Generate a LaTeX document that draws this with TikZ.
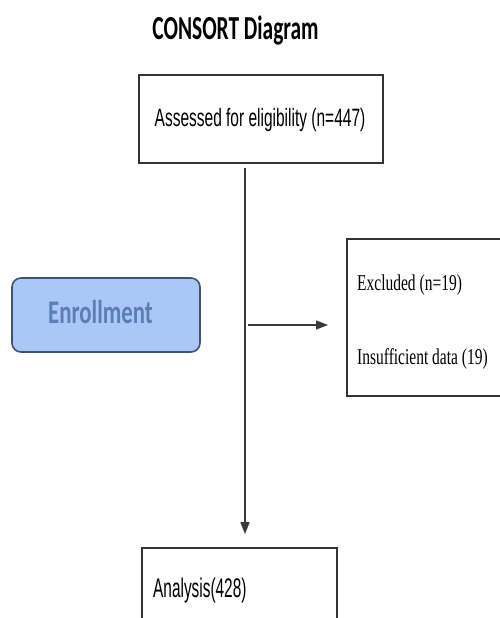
\documentclass[tikz,border=0pt]{standalone}
\usepackage{fontspec}
\usepackage{graphicx}
\usetikzlibrary{arrows.meta}
\newfontfamily\calfont{Carlito}
\newfontfamily\arialfont{Liberation Sans}
\newfontfamily\timesfont{Liberation Serif}
\definecolor{boxline}{HTML}{333333}
\definecolor{arrline}{HTML}{3A3A3A}
\definecolor{enrfill}{HTML}{A9C7F7}
\definecolor{enrline}{HTML}{44536B}
\definecolor{enrtext}{HTML}{5B7EB6}
\tikzset{
  plainbox/.style={draw=boxline, line width=1.8pt, fill=white, inner sep=0pt},
  enrbox/.style={draw=enrline, line width=1.6pt, fill=enrfill, rounded corners=9pt, inner sep=0pt},
  txt/.style={inner sep=0pt, anchor=base},
  ltxt/.style={inner sep=0pt, anchor=base west},
  arr/.style={draw=arrline, line width=1.5pt, -{Triangle[length=12pt,width=9pt]}},
}
\begin{document}
\begin{tikzpicture}[x=1pt,y=-1pt]
\useasboundingbox (0,0) rectangle (500,618);
\clip (0,0) rectangle (500,618);
% title
\node[txt] (title) at (235.5,40) {\scalebox{1}[1.57]{\calfont\bfseries\fontsize{21.4}{24}\selectfont CONSORT Diagram}};
% top box
\node[plainbox, minimum width=244pt, minimum height=88pt] (assess) at (261,119) {};
\node[txt] (assesstxt) at (260,126) {\scalebox{1}[1.62]{\arialfont\fontsize{15.5}{18}\selectfont Assessed for eligibility (n=447)}};
% enrollment
\node[enrbox, minimum width=188pt, minimum height=74pt] (enroll) at (106,315) {};
\node[txt] (enrolltxt) at (100.5,323) {\scalebox{1}[1.45]{\calfont\bfseries\fontsize{22.8}{26}\selectfont\color{enrtext}Enrollment}};
% excluded
\node[plainbox, minimum width=170pt, minimum height=157pt] (excl) at (432,317.5) {};
\node[ltxt] (excl1) at (357,290) {\scalebox{1}[1.46]{\timesfont\fontsize{15.5}{18}\selectfont Excluded (n=19)}};
\node[ltxt] (excl2) at (357,364) {\scalebox{1}[1.46]{\timesfont\fontsize{15.5}{18}\selectfont Insufficient data (19)}};
% analysis
\node[plainbox, minimum width=195pt, minimum height=90pt] (anal) at (239.5,593) {};
\node[ltxt] (analtxt) at (153,597) {\scalebox{1}[1.75]{\arialfont\fontsize{15.4}{18}\selectfont Analysis(428)}};
% connectors
\coordinate (vx) at (245,0);
\draw[arr, shorten <=4pt, shorten >=13pt] (assess.south -| vx) -- (anal.north -| vx);
\coordinate (hs) at (248,325);
\coordinate (he) at (328,325);
\draw[arr] (hs) -- (he);
\end{tikzpicture}
\end{document}
